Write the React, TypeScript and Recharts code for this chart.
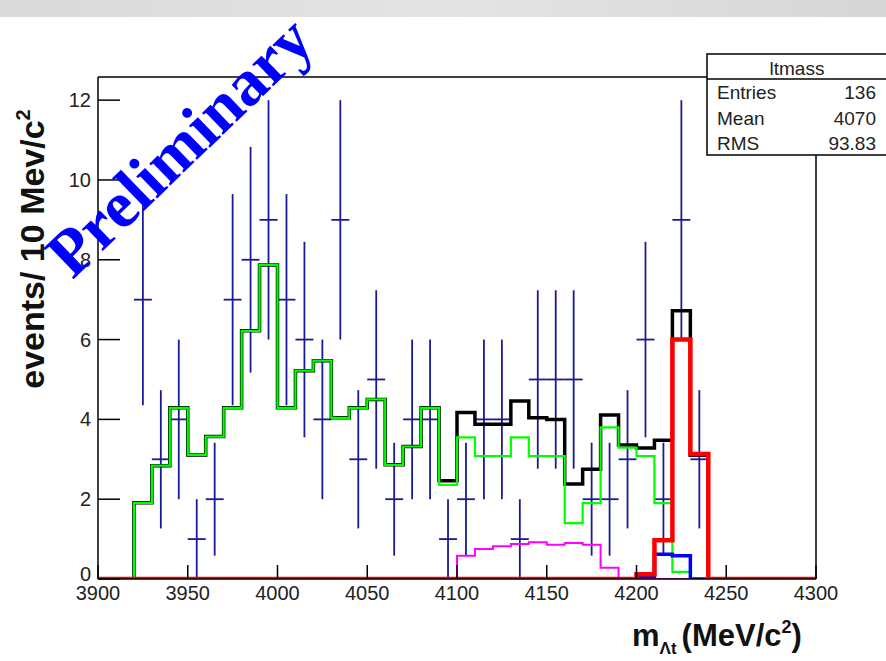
import React from 'react';
import { ComposedChart, Line, Scatter, ErrorBar, XAxis, YAxis, ReferenceLine } from 'recharts';

if (typeof document !== 'undefined') document.body.style.margin = '0';

// histogram binning: 40 bins of 10 MeV from 3900 to 4300
const X_MIN = 3900;
const X_MAX = 4300;
const BIN = 10;
const Y_MAX = 12.58;

// data counts per bin (zero bins are not drawn)
const dataCounts = [
  0, 0, 7, 3, 4, 1, 2, 7, 8, 9,
  7, 6, 4, 9, 3, 5, 2, 4, 4, 1,
  2, 4, 4, 1, 5, 5, 5, 2, 2, 3,
  6, 2, 9, 3, 0, 0, 0, 0, 0, 0,
];

// total fit (black)
const totalFit = [
  0, 0, 1.91, 2.84, 4.29, 3.11, 3.57, 4.29, 6.22, 7.87,
  4.29, 5.22, 5.47, 4.04, 4.29, 4.5, 2.86, 3.32, 4.29, 2.46,
  4.17, 3.88, 3.88, 4.46, 4.04, 4.0, 2.38, 2.75, 4.11, 3.36,
  3.28, 3.48, 6.72, 3.1, 0, 0, 0, 0, 0, 0,
];

// green component
const greenComp = [
  0, 0, 1.91, 2.84, 4.29, 3.11, 3.57, 4.29, 6.22, 7.87,
  4.29, 5.22, 5.47, 4.04, 4.29, 4.5, 2.86, 3.32, 4.29, 2.36,
  3.55, 3.08, 3.08, 3.55, 3.08, 3.08, 1.4, 1.9, 3.8, 3.29,
  3.08, 1.9, 0.18, 0, 0, 0, 0, 0, 0, 0,
];

// magenta component
const magentaComp = [
  0, 0, 0, 0, 0, 0, 0, 0, 0, 0,
  0, 0, 0, 0, 0, 0, 0, 0, 0, 0,
  0.58, 0.75, 0.82, 0.88, 0.92, 0.86, 0.9, 0.86, 0.28, 0,
  0, 0, 0, 0, 0, 0, 0, 0, 0, 0,
];

// blue component
const blueComp = [
  0, 0, 0, 0, 0, 0, 0, 0, 0, 0,
  0, 0, 0, 0, 0, 0, 0, 0, 0, 0,
  0, 0, 0, 0, 0, 0, 0, 0, 0, 0,
  0.06, 0.62, 0.58, 0, 0, 0, 0, 0, 0, 0,
];

// red component
const redComp = [
  0, 0, 0, 0, 0, 0, 0, 0, 0, 0,
  0, 0, 0, 0, 0, 0, 0, 0, 0, 0,
  0, 0, 0, 0, 0, 0, 0, 0, 0, 0,
  0.12, 0.97, 6.0, 3.13, 0, 0, 0, 0, 0, 0,
];

const statsRows = [
  { label: 'Entries', value: '136' },
  { label: 'Mean', value: '4070' },
  { label: 'RMS', value: '93.83' },
];

const xMinorTicks: number[] = [];
for (let v = X_MIN; v <= X_MAX; v += BIN) xMinorTicks.push(v);
const xMajorTicks = xMinorTicks.filter((v) => v % 50 === 0);
const yMinorTicks: number[] = [];
for (let v = 0; v <= 12.5; v += 0.5) yMinorTicks.push(v);
const yMajorTicks = yMinorTicks.filter((v) => v % 2 === 0);

// step outline: one point per low edge, plus the upper edge of the last bin
const toSteps = (vals: number[]) => {
  const pts = vals.map((y, i) => ({ x: X_MIN + i * BIN, y }));
  pts.push({ x: X_MAX, y: vals[vals.length - 1] });
  return pts;
};

const dataPoints = dataCounts
  .map((n, i) => ({ x: X_MIN + i * BIN + BIN / 2, y: n, ex: BIN / 2, ey: Math.sqrt(n) }))
  .filter((p) => p.y > 0);

const FONT = "'Liberation Sans', Arial, sans-serif";
const TICK_LINE = { stroke: '#000', strokeWidth: 1.5 };

// labels sit just outside the frame (frame bottom 579, frame left 98)
const XTick = ({ x, payload }: any) => (
  <text x={x} y={600} textAnchor="middle" fontSize={20} fontFamily={FONT} fill="#222">
    {payload.value}
  </text>
);

const YTick = ({ y, payload }: any) => (
  <text x={91} y={payload.value === 0 ? y + 2 : y + 7} textAnchor="end" fontSize={20} fontFamily={FONT} fill="#222">
    {payload.value}
  </text>
);

const NoTickLabel = () => <g />;
const NoMarker = () => <g />;

export default function App() {
  return (
    <div style={{ position: 'relative', width: 886, height: 661, overflow: 'hidden', background: '#fff' }}>
      <ComposedChart
        width={886}
        height={661}
        margin={{ top: 77, right: 70, bottom: 82, left: 98 }}
      >
        {/* mirrored axes keep the ticks inside the frame, as ROOT draws them;
            the minor-tick axes have zero size so they sit on the frame too */}
        <XAxis
          xAxisId="minor"
          dataKey="x"
          type="number"
          domain={[X_MIN, X_MAX]}
          ticks={xMinorTicks}
          interval={0}
          mirror
          height={0}
          tick={<NoTickLabel />}
          tickSize={7}
          tickLine={TICK_LINE}
          axisLine={false}
          allowDataOverflow
        />
        <YAxis
          yAxisId="minor"
          type="number"
          domain={[0, Y_MAX]}
          ticks={yMinorTicks}
          interval={0}
          mirror
          width={0}
          tick={<NoTickLabel />}
          tickSize={12}
          tickLine={TICK_LINE}
          axisLine={false}
          allowDataOverflow
        />
        <XAxis
          dataKey="x"
          type="number"
          domain={[X_MIN, X_MAX]}
          ticks={xMajorTicks}
          interval={0}
          mirror
          tick={<XTick />}
          tickSize={14}
          tickMargin={0}
          tickLine={TICK_LINE}
          axisLine={{ stroke: '#000', strokeWidth: 1.5 }}
          allowDataOverflow
        />
        <YAxis
          type="number"
          domain={[0, Y_MAX]}
          ticks={yMajorTicks}
          interval={0}
          mirror
          tick={<YTick />}
          tickSize={22}
          tickMargin={0}
          tickLine={TICK_LINE}
          axisLine={{ stroke: '#000', strokeWidth: 1.5 }}
          allowDataOverflow
        />
        <ReferenceLine y={Y_MAX} stroke="#000" strokeWidth={1.5} ifOverflow="visible" />
        <ReferenceLine x={X_MAX} stroke="#000" strokeWidth={1.5} ifOverflow="visible" />
        <Scatter data={dataPoints} dataKey="y" shape={<NoMarker />} isAnimationActive={false}>
          <ErrorBar dataKey="ey" direction="y" width={0} stroke="#1a1a96" strokeWidth={1.8} />
          <ErrorBar dataKey="ex" direction="x" width={0} stroke="#1a1a96" strokeWidth={1.8} />
        </Scatter>
        <Line data={toSteps(totalFit)} dataKey="y" type="stepAfter" stroke="#000" strokeWidth={3.5} dot={false} isAnimationActive={false} />
        <Line data={toSteps(greenComp)} dataKey="y" type="stepAfter" stroke="#00ff00" strokeWidth={2.2} dot={false} isAnimationActive={false} />
        <Line data={toSteps(magentaComp)} dataKey="y" type="stepAfter" stroke="#ff00ff" strokeWidth={2} dot={false} isAnimationActive={false} />
        <Line data={toSteps(blueComp)} dataKey="y" type="stepAfter" stroke="#0000ff" strokeWidth={3.5} dot={false} isAnimationActive={false} />
        <Line data={toSteps(redComp)} dataKey="y" type="stepAfter" stroke="#ff0000" strokeWidth={4.5} dot={false} isAnimationActive={false} />
      </ComposedChart>

      <svg width={886} height={661} style={{ position: 'absolute', left: 0, top: 0, pointerEvents: 'none' }}>
        <defs>
          <linearGradient id="strip" x1="0" y1="0" x2="1" y2="0">
            <stop offset="0" stopColor="#d9d9d9" />
            <stop offset="0.5" stopColor="#e4e4e4" />
            <stop offset="1" stopColor="#d6d6d6" />
          </linearGradient>
        </defs>
        <rect x={0} y={0} width={886} height={17} fill="url(#strip)" />

        {/* stats box */}
        <rect x={707} y={54} width={200} height={101} fill="#fff" stroke="#000" strokeWidth={1.5} />
        <line x1={707} x2={886} y1={79} y2={79} stroke="#000" strokeWidth={1.5} />
        <text x={797} y={75} textAnchor="middle" fontSize={19} fontFamily={FONT} fill="#222">ltmass</text>
        {statsRows.map((r, i) => (
          <g key={r.label}>
            <text x={717} y={99 + i * 25.7} fontSize={19} fontFamily={FONT} fill="#222">{r.label}</text>
            <text x={876} y={99 + i * 25.7} textAnchor="end" fontSize={19} fontFamily={FONT} fill="#222">{r.value}</text>
          </g>
        ))}

        {/* axis titles */}
        <text x={44} y={249} transform="rotate(-90 44 249)" textAnchor="middle" fontSize={34} fontWeight="bold" fontFamily={FONT} fill="#111">
          events/ 10 Mev/c<tspan fontSize={20} dy={-14}>2</tspan>
        </text>
        <text x={632} y={646} fontSize={31} fontWeight="bold" fontFamily={FONT} fill="#111">
          m<tspan fontSize={17} dy={8}>Λt</tspan>
          <tspan dx={5} dy={-8}>(MeV/c</tspan>
          <tspan fontSize={18} dy={-13}>2</tspan>
          <tspan dy={13}>)</tspan>
        </text>

        {/* watermark */}
        <text
          x={179}
          y={146}
          transform="rotate(-44 179 146)"
          textAnchor="middle"
          dominantBaseline="central"
          fontSize={66}
          fontWeight="bold"
          fontFamily="'Liberation Serif', 'Times New Roman', serif"
          fill="#0000ff"
        >
          Preliminary
        </text>
      </svg>
    </div>
  );
}
